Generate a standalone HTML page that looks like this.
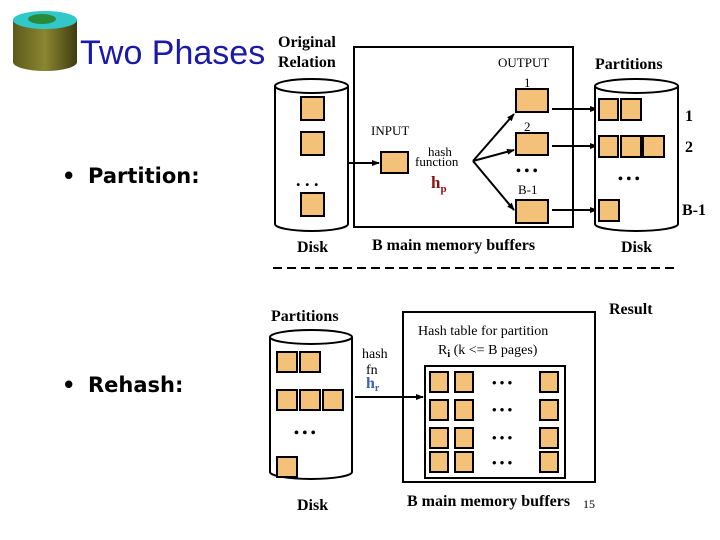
<!DOCTYPE html>
<html><head><meta charset="utf-8"><style>
html,body{margin:0;padding:0;background:#fff;}
svg{display:block;}
.s{fill:#f3c177;stroke:#000;stroke-width:2;}
.t{font-family:"Liberation Serif",serif;font-weight:bold;fill:#000;}
.n{font-family:"Liberation Serif",serif;fill:#000;}
</style></head><body>
<svg width="720" height="540" viewBox="0 0 720 540" xmlns="http://www.w3.org/2000/svg">
<defs>
<marker id="a" markerWidth="8" markerHeight="8" refX="7" refY="4" orient="auto" markerUnits="userSpaceOnUse"><path d="M0,1 L8,4 L0,7 z" fill="#000"/></marker>
<linearGradient id="g" x1="0" x2="1"><stop offset="0" stop-color="#5c5a1c"/><stop offset="0.5" stop-color="#8a8630"/><stop offset="1" stop-color="#3e3c10"/></linearGradient>
</defs>
<path d="M13,20 L13,62 A32,9 0 0 0 77,62 L77,20 Z" fill="url(#g)"/>
<ellipse cx="45" cy="20" rx="32" ry="9" fill="#30c8c8"/>
<ellipse cx="42" cy="19" rx="14" ry="5" fill="#2a8a3a"/>
<text x="80" y="64" font-family="Liberation Sans,sans-serif" font-size="34" fill="#1a1aa8">Two Phases</text>
<text x="62" y="183" font-family="DejaVu Sans,sans-serif" font-weight="bold" font-size="21">•</text>
<text x="88" y="183" font-family="DejaVu Sans,sans-serif" font-weight="bold" font-size="21">Partition:</text>
<text x="62" y="392" font-family="DejaVu Sans,sans-serif" font-weight="bold" font-size="21">•</text>
<text x="88" y="392" font-family="DejaVu Sans,sans-serif" font-weight="bold" font-size="21">Rehash:</text>

<path d="M275,86 L275,224 A36.5,7 0 0 0 348,224 L348,86" fill="#fff" stroke="#000" stroke-width="2"/>
<ellipse cx="311.5" cy="86" rx="36.5" ry="7" fill="#fff" stroke="#000" stroke-width="2"/>
<rect class="s" x="301" y="97" width="23" height="23"/>
<rect class="s" x="301" y="132" width="23" height="23"/>
<rect class="s" x="301" y="193" width="23" height="23"/>
<text class="t" x="296" y="186" font-size="18">. . .</text>
<text class="t" x="278" y="47" font-size="16">Original</text>
<text class="t" x="278" y="67" font-size="16">Relation</text>
<text class="t" x="297" y="252" font-size="16">Disk</text>

<rect x="354" y="47" width="219" height="180" fill="none" stroke="#000" stroke-width="2"/>
<text class="n" x="498" y="67" font-size="13">OUTPUT</text>
<text class="n" x="371" y="135" font-size="13">INPUT</text>
<rect class="s" x="381" y="152" width="27" height="21"/>
<line x1="348" y1="163" x2="379" y2="163" stroke="#000" stroke-width="2" marker-end="url(#a)"/>
<text class="n" x="428" y="156" font-size="13">hash</text>
<text class="n" x="415" y="166" font-size="13">function</text>
<text class="t" x="431" y="188" font-size="17" style="fill:#8b1010">h<tspan font-size="11" dy="4">p</tspan></text>
<rect class="s" x="516" y="89" width="32" height="23"/>
<rect class="s" x="516" y="133" width="32" height="22"/>
<rect class="s" x="516" y="200" width="32" height="23"/>
<text class="n" x="524" y="87" font-size="13">1</text>
<text class="n" x="524" y="131" font-size="13">2</text>
<text class="n" x="518" y="194" font-size="13">B-1</text>
<text class="t" x="516" y="175" font-size="14">• • •</text>
<line x1="473" y1="161" x2="514" y2="114" stroke="#000" stroke-width="2" marker-end="url(#a)"/>
<line x1="473" y1="161" x2="514" y2="150" stroke="#000" stroke-width="2" marker-end="url(#a)"/>
<line x1="473" y1="161" x2="514" y2="210" stroke="#000" stroke-width="2" marker-end="url(#a)"/>
<line x1="552" y1="109" x2="597" y2="109" stroke="#000" stroke-width="2" marker-end="url(#a)"/>
<line x1="552" y1="146" x2="597" y2="146" stroke="#000" stroke-width="2" marker-end="url(#a)"/>
<line x1="552" y1="210" x2="597" y2="210" stroke="#000" stroke-width="2" marker-end="url(#a)"/>
<text class="t" x="372" y="250" font-size="16">B main memory buffers</text>

<path d="M595,86 L595,224 A41.5,7 0 0 0 678,224 L678,86" fill="#fff" stroke="#000" stroke-width="2"/>
<ellipse cx="636.5" cy="86" rx="41.5" ry="7" fill="#fff" stroke="#000" stroke-width="2"/>
<rect class="s" x="599" y="99" width="19" height="21"/>
<rect class="s" x="621" y="99" width="20" height="21"/>
<rect class="s" x="599" y="136" width="19" height="21"/>
<rect class="s" x="621" y="136" width="20" height="21"/>
<rect class="s" x="643" y="136" width="21" height="21"/>
<rect class="s" x="599" y="200" width="20" height="21"/>
<text class="t" x="618" y="183" font-size="14">• • •</text>
<text class="t" x="595" y="69" font-size="16">Partitions</text>
<text class="t" x="685" y="121" font-size="16">1</text>
<text class="t" x="685" y="152" font-size="16">2</text>
<text class="t" x="682" y="215" font-size="16">B-1</text>
<text class="t" x="621" y="252" font-size="16">Disk</text>

<line x1="273" y1="268" x2="678" y2="268" stroke="#000" stroke-width="2" stroke-dasharray="9,5"/>

<path d="M270,337 L270,472 A41,7 0 0 0 352,472 L352,337" fill="#fff" stroke="#000" stroke-width="2"/>
<ellipse cx="311" cy="337" rx="41" ry="7" fill="#fff" stroke="#000" stroke-width="2"/>
<rect class="s" x="277" y="352" width="20" height="20"/>
<rect class="s" x="300" y="352" width="20" height="20"/>
<rect class="s" x="277" y="390" width="20" height="20"/>
<rect class="s" x="300" y="390" width="20" height="20"/>
<rect class="s" x="323" y="390" width="20" height="20"/>
<rect class="s" x="277" y="457" width="20" height="20"/>
<text class="t" x="294" y="437" font-size="14">• • •</text>
<text class="t" x="271" y="321" font-size="16">Partitions</text>
<text class="t" x="297" y="510" font-size="16">Disk</text>
<text class="n" x="362" y="358" font-size="14">hash</text>
<text class="n" x="366" y="374" font-size="14">fn</text>
<text class="t" x="366" y="388" font-size="16" style="fill:#4060c0">h<tspan font-size="10" dy="3">r</tspan></text>
<line x1="355" y1="397" x2="423" y2="397" stroke="#000" stroke-width="2" marker-end="url(#a)"/>

<rect x="403" y="312" width="192" height="170" fill="none" stroke="#000" stroke-width="2"/>
<text class="n" x="418" y="335" font-size="14">Hash table for partition</text>
<text class="n" x="438" y="354" font-size="14">R<tspan font-size="10" dy="3" font-weight="bold">i</tspan><tspan dy="-3"> (k &lt;= B  pages)</tspan></text>
<rect x="425" y="366" width="140" height="112" fill="none" stroke="#000" stroke-width="2"/>
<g>
<rect class="s" x="430" y="372" width="18" height="20"/><rect class="s" x="455" y="372" width="18" height="20"/><rect class="s" x="540" y="372" width="18" height="20"/>
<rect class="s" x="430" y="400" width="18" height="20"/><rect class="s" x="455" y="400" width="18" height="20"/><rect class="s" x="540" y="400" width="18" height="20"/>
<rect class="s" x="430" y="428" width="18" height="20"/><rect class="s" x="455" y="428" width="18" height="20"/><rect class="s" x="540" y="428" width="18" height="20"/>
<rect class="s" x="430" y="452" width="18" height="20"/><rect class="s" x="455" y="452" width="18" height="20"/><rect class="s" x="540" y="452" width="18" height="20"/>
</g>
<text class="t" x="492" y="387" font-size="13">• • •</text>
<text class="t" x="492" y="414" font-size="13">• • •</text>
<text class="t" x="492" y="442" font-size="13">• • •</text>
<text class="t" x="492" y="467" font-size="13">• • •</text>
<text class="t" x="609" y="314" font-size="16">Result</text>
<text class="t" x="407" y="506" font-size="16">B main memory buffers</text>
<text class="n" x="583" y="508" font-size="12">15</text>
</svg>
</body></html>
